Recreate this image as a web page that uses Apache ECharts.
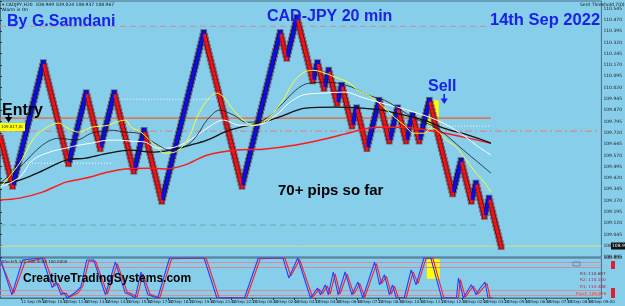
<!DOCTYPE html>
<html><head><meta charset="utf-8">
<script src="https://cdn.jsdelivr.net/npm/echarts@6/dist/echarts.min.js"></script>
<style>html,body{margin:0;padding:0;background:#87ceeb;overflow:hidden}#c{width:625px;height:306px}</style>
</head><body><div id="c"></div><script>
// ---------- DATA ----------
const BRICK = 0.025;
const RENKO_START = 109.70;
// signed brick counts of each renko leg (+ up / - down)
const renkoRuns = [-14,33,-27,19,-15,15,-21,11,-19,45,-41,41,-7,11,
  -17,5,-7,5,-9,5,-11,5,-11,13,-11,9,-9,7,-7,11,
  -25,9,-11,5,-9,5,-13];

const maYellow = [[1,109.372],[10,109.518],[16.5,109.671],[21.5,109.737],[30,109.784],[33.5,109.757],[40,109.724],[46.5,109.757],[55,109.770],[58.5,109.790],[63.5,109.804],[66.5,109.757],[71.5,109.724],[78.5,109.638],[83.5,109.585],[88.5,109.591],[95,109.671],[100,109.824],[105,109.936],[110,109.983],[113.5,109.956],[118.5,109.870],[123.5,109.804],[128.5,109.770],[133.5,109.790],[138.5,109.850],[143.5,109.936],[148.5,110.049],[153.5,110.116],[158.5,110.135],[163.5,110.122],[170,110.089],[176.5,110.056],[181.5,110.003],[188.5,109.956],[193.5,109.903],[200,109.824],[205,109.770],[210,109.717],[215,109.717],[218.5,109.751],[221.5,109.737],[226.5,109.671],[231.5,109.624],[236.5,109.538],[241.5,109.452],[246,109.386],[249,109.326]];
const maBlackFast = [[0,109.386],[10,109.492],[21.5,109.638],[30,109.684],[38.5,109.671],[46.5,109.717],[56.5,109.737],[63.5,109.724],[70,109.717],[78.5,109.651],[86.5,109.605],[95,109.638],[100,109.704],[105,109.804],[111.5,109.870],[118.5,109.837],[125,109.790],[133.5,109.804],[141.5,109.890],[150,110.003],[156.5,110.049],[166.5,110.056],[178.5,110.023],[186.5,109.970],[195,109.936],[203.5,109.870],[210,109.817],[221.5,109.751],[235,109.605],[249,109.452]];
const maWhite = [[0,109.359],[10,109.425],[16.5,109.538],[25,109.591],[33.5,109.618],[40,109.638],[46.5,109.651],[55,109.671],[60,109.671],[66.5,109.664],[73.5,109.658],[80,109.618],[85,109.618],[91.5,109.638],[100,109.704],[105,109.751],[113.5,109.804],[121.5,109.770],[130,109.770],[140,109.837],[146.5,109.917],[153.5,109.970],[163.5,109.983],[175,109.990],[183.5,109.956],[193.5,109.917],[203.5,109.883],[221.5,109.804],[233.5,109.717],[241.5,109.638],[249,109.571]];
const maBlackSlow = [[0,109.386],[10,109.406],[20,109.459],[33.5,109.538],[43.5,109.552],[55,109.585],[66.5,109.605],[76.5,109.591],[86.5,109.605],[96.5,109.638],[105,109.671],[116.5,109.737],[133.5,109.790],[141.5,109.824],[155,109.883],[170,109.890],[183.5,109.883],[193.5,109.870],[205,109.837],[215,109.804],[225,109.751],[237.5,109.704],[249,109.651]];
const maRed = [[0,109.273],[10,109.286],[21.5,109.326],[33.5,109.392],[43.5,109.419],[55,109.459],[63.5,109.479],[75,109.485],[83.5,109.479],[93.5,109.505],[105,109.571],[120,109.605],[133.5,109.611],[150,109.638],[166.5,109.684],[178.5,109.724],[191.5,109.757],[205,109.757],[220,109.730],[235,109.691],[249,109.651]];

// horizontal levels: [price, from, to]
const levelEntry = [109.817, 0, 249];
const levelHigh = [110.427, 0, 249];
const levelPivot = [109.731, 0, 305];
const levelLow = [109.107, 0, 241.5];
const levelBid = [108.967, 0, 305];
const dotLevels = [[109.943, 60, 110], [109.764, 205, 249], [109.518, 1, 57]];

const stochBlue = [[0,100],[6,8],[11.5,95],[21.5,100],[26.5,26],[28.5,40],[31,8],[32.5,13],[34,0],[38.5,15],[41,28],[44,95],[47.5,95],[53.5,8],[58.5,90],[63.5,13],[66,8],[68.5,0],[71.5,65],[75,8],[80,0],[86,100],[103.5,100],[110,0],[124,0],[131,100],[143.5,100],[146.5,50],[151,100],[157.5,0],[158.5,0],[161,25],[162.5,8],[165,33],[166.5,8],[169,65],[171.5,8],[175,65],[178.5,8],[181.5,40],[184,0],[190,90],[192.5,33],[195,58],[197.5,8],[199,33],[201,0],[205,0],[208.5,70],[211,33],[215,100],[218.5,100],[224,0],[231.5,0],[232.5,50],[235,0],[239,33],[241.5,8],[243.5,25],[246,40],[247.5,0],[249,0]];
const stochRed = [[0,96],[7,12],[12.5,88],[22.5,100],[27.5,30],[29.5,36],[32,10],[33.5,12],[35,2],[39.5,12],[42,30],[45,92],[48.5,92],[54.5,10],[59.5,86],[64.5,15],[67,10],[69.5,2],[72.5,60],[76,10],[81,0],[87,98],[104.5,100],[111,2],[125,0],[132,98],[144.5,100],[147.5,55],[152,96],[158.5,2],[159.5,0],[162,22],[163.5,10],[166,30],[167.5,10],[170,60],[172.5,10],[176,60],[179.5,10],[182.5,36],[185,2],[191,86],[193.5,36],[196,54],[198.5,10],[200,30],[202,2],[206,0],[209.5,66],[212,36],[216,98],[219.5,100],[225,2],[232.5,0],[233.5,46],[236,2],[240,30],[242.5,10],[244.5,22],[247,36],[248.5,2],[250,0]];
const stochLevels = [90, 78, 20, 8];

const sellZone = [[215.5, 109.936], [222.5, 109.770]];
const sellZoneOsc = [[216.5, 97], [223, 48]];

const timeLabels = ["12 Sep 2022","12 Sep 09:00","12 Sep 10:20","12 Sep 11:40","12 Sep 13:00","12 Sep 14:20","12 Sep 15:40","12 Sep 17:00","12 Sep 18:20","12 Sep 19:40","12 Sep 21:00","12 Sep 22:20","13 Sep 00:40","13 Sep 02:00","13 Sep 03:20","13 Sep 04:40","13 Sep 06:00","13 Sep 07:20","13 Sep 08:40","13 Sep 10:00","13 Sep 11:20","13 Sep 12:40","14 Sep 02:00","14 Sep 03:20","14 Sep 05:00","14 Sep 06:40","14 Sep 07:20","14 Sep 08:00","14 Sep 09:00"];

// ---------- BUILD RENKO ----------
const renko = [];
(function(){
  let lastO = null, lastC = null, lastDir = 0, idx = 0;
  for (const run of renkoRuns) {
    const d = Math.sign(run);
    for (let k = 0; k < Math.abs(run); k++) {
      let o;
      if (lastDir === 0) o = RENKO_START;
      else if (d === lastDir) o = lastC;
      else o = lastO;
      const c = +(o + d * BRICK).toFixed(4);
      renko.push([idx + 0.5, o, c]);
      lastO = o; lastC = c; lastDir = d; idx++;
    }
  }
})();

const X_MAX = 305;          // indicator / panel axis
const RENKO_X_MAX = 645;    // renko bar axis (same grid width)
const chart = echarts.init(document.getElementById('c'), null, {renderer: 'canvas'});

function hline(lv, color, type, width, z) {
  return {type: 'line', xAxisIndex: 0, yAxisIndex: 0, data: [[lv[1], lv[0]], [lv[2], lv[0]]],
    symbol: 'none', silent: true, z: z || 3, lineStyle: {color: color, type: type, width: width || 1}};
}
function maLine(data, color, width) {
  return {type: 'line', xAxisIndex: 0, yAxisIndex: 0, data: data, symbol: 'none', smooth: 0.35,
    silent: true, z: 6, lineStyle: {color: color, width: width}};
}
function renkoLayer(halfW, ext, upColor, dnColor, z) {
  return {
    type: 'custom', xAxisIndex: 2, yAxisIndex: 0, z: z, silent: true,
    data: renko, encode: {x: 0, y: [1, 2]},
    renderItem: function (params, api) {
      const x = api.value(0), o = api.value(1), c = api.value(2);
      const top = api.coord([x, Math.max(o, c)]);
      const bot = api.coord([x, Math.min(o, c)]);
      const h = bot[1] - top[1];
      return {type: 'rect', shape: {x: top[0] - halfW, y: top[1] - ext, width: halfW * 2, height: h + ext * 2},
        style: {fill: c > o ? upColor : dnColor}};
    }
  };
}

const series = [
  hline(levelHigh, '#c58fa0', [6, 4], 1),
  hline(levelPivot, '#e0806a', [7, 3, 2, 3], 1),
  hline(levelLow, '#5fb0a8', [6, 4], 1),
  hline(levelBid, '#c8e87a', 'solid', 1),
  ...dotLevels.map(l => hline(l, '#ffffff', [1, 2], 1)),
  renkoLayer(3.4, 1.2, '#6a6f8c', '#8a6672', 4),
  renkoLayer(2.4, 0.4, '#15154a', '#5e1c28', 4.1),
  renkoLayer(1.4, 0, '#0a0aff', '#ff0f0f', 4.2),
  hline(levelEntry, '#f0602a', 'solid', 1.2),
  maLine(maRed, '#ff1a1a', 1.5),
  maLine(maBlackSlow, '#101010', 1.3),
  maLine(maWhite, '#ffffff', 1),
  maLine(maBlackFast, '#1a1a1a', 0.8),
  maLine(maYellow, '#ffff30', 1),
  {
    type: 'line', xAxisIndex: 0, yAxisIndex: 0, data: [], z: 2,
    markArea: {silent: true, itemStyle: {color: '#ffff00', opacity: 1},
      data: [[{coord: sellZone[0]}, {coord: sellZone[1]}]]}
  },
  {
    type: 'line', xAxisIndex: 1, yAxisIndex: 1, data: stochRed, symbol: 'none', silent: true, z: 5,
    lineStyle: {color: '#ff2020', width: 1.1},
    markArea: {silent: true, itemStyle: {color: '#ffff00', opacity: 1},
      data: [[{coord: sellZoneOsc[0]}, {coord: sellZoneOsc[1]}]]},
    markLine: {silent: true, symbol: 'none', label: {show: false},
      lineStyle: {color: '#d88a98', type: 'solid', width: 1},
      data: stochLevels.map(v => ({yAxis: v}))}
  },
  {
    type: 'line', xAxisIndex: 1, yAxisIndex: 1, data: stochBlue, symbol: 'none', silent: true, z: 6,
    lineStyle: {color: '#2a3cff', width: 1.1}
  }
];

function txt(text, x, y, font, fill, extra) {
  return Object.assign({type: 'text', z: 100, silent: true,
    style: {text: text, x: x, y: y, font: font, fill: fill, textVerticalAlign: 'top'}}, extra || {});
}

const graphic = [
  txt('\u25BE CADJPY,H20  108.949 109.024 108.937 108.967', 2, 2, '4.5px "DejaVu Sans"', '#111'),
  txt('Alarm is On', 2, 7.5, '4.5px "DejaVu Sans"', '#111'),
  txt('Sent Threshold 7(0)', 580, 2, '4.5px "DejaVu Sans"', '#111'),
  txt('By G.Samdani', 7, 14, 'bold 16px "Liberation Sans"', '#1a22e6'),
  txt('CAD-JPY 20 min', 267, 9, 'bold 16px "Liberation Sans"', '#1a22e6'),
  txt('14th Sep 2022', 490, 12, 'bold 16.5px "Liberation Sans"', '#1a22e6'),
  txt('Entry', 2, 102.5, 'bold 16px "Liberation Sans"', '#000'),
  txt('Sell', 428, 78.5, 'bold 16px "Liberation Sans"', '#1a22e6'),
  txt('70+ pips so far', 278, 183.5, 'bold 15px "Liberation Sans"', '#000'),
  txt('CreativeTradingSystems.com', 23, 273, 'bold 12px "Liberation Sans"', '#000'),
  {type: 'rect', z: 99, silent: true, shape: {x: 0, y: 123, width: 25, height: 8}, style: {fill: '#ffff00'}},
  txt('109.817,Al', 1, 125, '4px "DejaVu Sans"', '#222'),
  {type: 'rect', z: 100, silent: true, shape: {x: 7.8, y: 113, width: 1.6, height: 5}, style: {fill: '#000'}},
  {type: 'polygon', z: 100, silent: true, shape: {points: [[5, 117], [12.2, 117], [8.6, 122.5]]}, style: {fill: '#000'}},
  {type: 'rect', z: 100, silent: true, shape: {x: 443.4, y: 94, width: 1.6, height: 5}, style: {fill: '#1a22e6'}},
  {type: 'polygon', z: 100, silent: true, shape: {points: [[440.6, 98.5], [447.8, 98.5], [444.2, 104]]}, style: {fill: '#1a22e6'}},
  txt('Stoch(5,3,3) 100.0000 100.0000', 2, 259.5, '4px "DejaVu Sans"', '#222'),
  txt('- - - - - - - - - -', 581, 263.5, '4px "DejaVu Sans"', '#7a8a9a'),
  txt('R3: 110.607', 580, 271.5, '4.2px "DejaVu Sans"', '#8a1a2a'),
  txt('R2: 110.150', 580, 278, '4.2px "DejaVu Sans"', '#c02040'),
  txt('R1: 110.488', 580, 284.5, '4.2px "DejaVu Sans"', '#d02040'),
  txt('Pivot: 109.876', 576, 291.5, '4.2px "DejaVu Sans"', '#ff3010'),
  {type: 'rect', z: 100, silent: true, shape: {x: 573, y: 262, width: 7, height: 4}, style: {fill: 'none', stroke: '#5a7aa0', lineWidth: 0.8}},
  {type: 'rect', z: 100, silent: true, shape: {x: 611, y: 261, width: 4, height: 8}, style: {fill: '#e02030'}},
  {type: 'rect', z: 100, silent: true, shape: {x: 611, y: 288, width: 4, height: 10}, style: {fill: '#e02030'}},
  {type: 'rect', z: 100, silent: true, shape: {x: 611, y: 242.5, width: 14, height: 7}, style: {fill: '#111'}},
  txt('108.967', 612, 243.8, '4.5px "DejaVu Sans"', '#fff')
];

chart.setOption({
  animation: false,
  backgroundColor: '#87ceeb',
  grid: [
    {left: 0, right: 15, top: 1, height: 256, show: true, borderColor: '#4a6e84', borderWidth: 1, backgroundColor: 'transparent'},
    {left: 0, right: 15, top: 258, height: 40, show: true, borderColor: '#4a6e84', borderWidth: 1, backgroundColor: 'transparent'}
  ],
  xAxis: [
    {type: 'value', gridIndex: 0, min: 0, max: X_MAX, show: false},
    {type: 'value', gridIndex: 1, min: 0, max: X_MAX, interval: 10.65,
      axisLine: {show: true, lineStyle: {color: '#4a6e84'}},
      axisTick: {show: true, length: 2, lineStyle: {color: '#333'}},
      splitLine: {show: false},
      axisLabel: {show: true, fontSize: 4, color: '#222', align: 'left', margin: 2, showMaxLabel: false,
        fontFamily: 'DejaVu Sans',
        formatter: v => timeLabels[Math.round(v / 10.65)] || ''}},
    {type: 'value', gridIndex: 0, min: 0, max: RENKO_X_MAX, show: false}
  ],
  yAxis: [
    {type: 'value', gridIndex: 0, position: 'right', min: 108.895, max: 110.595, interval: 0.075,
      axisLine: {show: true, lineStyle: {color: '#4a6e84'}},
      axisTick: {show: true, length: 2, lineStyle: {color: '#333'}},
      splitLine: {show: false},
      axisLabel: {fontSize: 4.5, color: '#222', margin: 2, fontFamily: 'DejaVu Sans',
        formatter: v => (v < 110.58) ? v.toFixed(3) : ''}},
    {type: 'value', gridIndex: 1, position: 'right', min: 0, max: 100, interval: 100,
      axisLine: {show: true, lineStyle: {color: '#4a6e84'}},
      axisTick: {show: false}, splitLine: {show: false},
      axisLabel: {fontSize: 4.5, color: '#222', margin: 2, fontFamily: 'DejaVu Sans',
        formatter: v => v === 100 ? '100.000' : ''}}
  ],
  series: series,
  graphic: graphic
});
</script></body></html>
